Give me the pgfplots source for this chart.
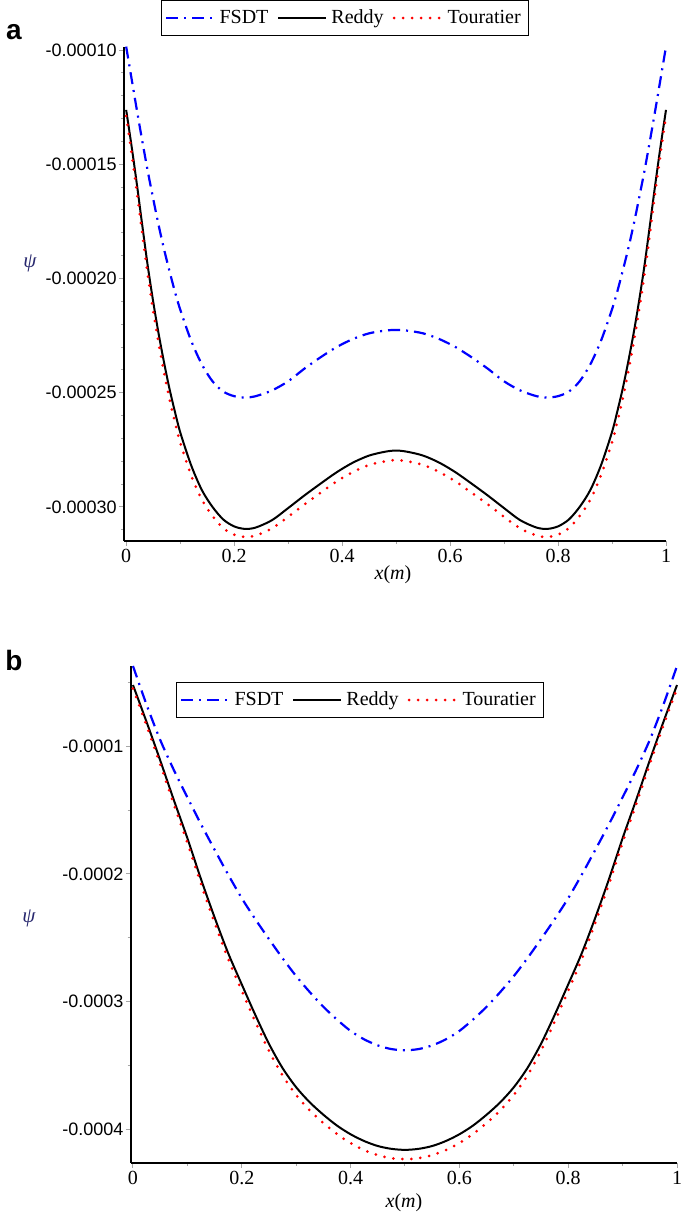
\documentclass[border=0pt]{standalone}
\usepackage{fontspec}
\setmainfont{Liberation Serif}
\newfontfamily\sansf{Liberation Sans}
\usepackage{pgfplots}
\pgfplotsset{compat=1.18}
\usepackage{pgfplotstable}

\definecolor{psicol}{RGB}{40,40,110}

\pgfplotstableread{
x fsdt reddy tour
0     -0.0000985 -0.0001262 -0.0001289
0.01  -0.0001125 -0.0001420 -0.0001450
0.02  -0.0001265 -0.0001590 -0.0001623
0.03  -0.0001400 -0.0001770 -0.0001806
0.04  -0.0001530 -0.0001945 -0.0001984
0.05  -0.0001650 -0.0002100 -0.0002140
0.06  -0.0001765 -0.0002240 -0.0002282
0.07  -0.0001870 -0.0002365 -0.0002408
0.08  -0.0001965 -0.0002480 -0.0002524
0.09  -0.0002055 -0.0002580 -0.0002625
0.10  -0.0002135 -0.0002672 -0.0002717
0.12  -0.0002270 -0.0002815 -0.0002859
0.14  -0.0002375 -0.0002925 -0.0002967
0.16  -0.0002450 -0.0003000 -0.0003040
0.18  -0.0002495 -0.0003055 -0.0003093
0.20  -0.0002515 -0.0003085 -0.0003121
0.22  -0.0002521 -0.0003096 -0.0003131
0.24  -0.0002515 -0.0003090 -0.0003125
0.27  -0.0002490 -0.0003058 -0.0003094
0.30  -0.0002450 -0.0003005 -0.0003043
0.33  -0.0002395 -0.0002950 -0.0002989
0.36  -0.0002345 -0.0002898 -0.0002938
0.39  -0.0002300 -0.0002848 -0.0002888
0.42  -0.0002265 -0.0002806 -0.0002847
0.45  -0.0002240 -0.0002775 -0.0002816
0.48  -0.0002228 -0.0002758 -0.0002800
0.50  -0.0002225 -0.0002753 -0.0002795
0.52  -0.0002228 -0.0002758 -0.0002800
0.55  -0.0002240 -0.0002775 -0.0002816
0.58  -0.0002265 -0.0002806 -0.0002847
0.61  -0.0002300 -0.0002848 -0.0002888
0.64  -0.0002345 -0.0002898 -0.0002938
0.67  -0.0002395 -0.0002950 -0.0002989
0.70  -0.0002450 -0.0003005 -0.0003043
0.73  -0.0002490 -0.0003058 -0.0003094
0.76  -0.0002515 -0.0003090 -0.0003125
0.78  -0.0002521 -0.0003096 -0.0003131
0.80  -0.0002515 -0.0003085 -0.0003121
0.82  -0.0002495 -0.0003055 -0.0003093
0.84  -0.0002450 -0.0003000 -0.0003040
0.86  -0.0002375 -0.0002925 -0.0002967
0.88  -0.0002270 -0.0002815 -0.0002859
0.90  -0.0002135 -0.0002672 -0.0002717
0.91  -0.0002055 -0.0002580 -0.0002625
0.92  -0.0001965 -0.0002480 -0.0002524
0.93  -0.0001870 -0.0002365 -0.0002408
0.94  -0.0001765 -0.0002240 -0.0002282
0.95  -0.0001650 -0.0002100 -0.0002140
0.96  -0.0001530 -0.0001945 -0.0001984
0.97  -0.0001400 -0.0001770 -0.0001806
0.98  -0.0001265 -0.0001590 -0.0001623
0.99  -0.0001125 -0.0001420 -0.0001450
1.00  -0.0000985 -0.0001262 -0.0001289
}\dataa

\pgfplotstableread{
x fsdt reddy tour
0     -0.0000372 -0.0000521 -0.0000548
0.025 -0.0000675 -0.0000810 -0.0000838
0.05  -0.0000950 -0.0001110 -0.0001140
0.075 -0.0001185 -0.0001420 -0.0001452
0.10  -0.0001400 -0.0001720 -0.0001755
0.125 -0.0001610 -0.0002040 -0.0002077
0.15  -0.0001810 -0.0002340 -0.0002380
0.175 -0.0002005 -0.0002620 -0.0002665
0.20  -0.0002190 -0.0002865 -0.0002915
0.225 -0.0002355 -0.0003105 -0.0003157
0.25  -0.0002510 -0.0003330 -0.0003385
0.275 -0.0002660 -0.0003520 -0.0003578
0.30  -0.0002800 -0.0003670 -0.0003730
0.325 -0.0002925 -0.0003788 -0.0003851
0.35  -0.0003040 -0.0003885 -0.0003950
0.375 -0.0003140 -0.0003970 -0.0004036
0.40  -0.0003229 -0.0004038 -0.0004107
0.425 -0.0003295 -0.0004091 -0.0004162
0.45  -0.0003342 -0.0004130 -0.0004201
0.475 -0.0003371 -0.0004152 -0.0004225
0.50  -0.0003380 -0.0004160 -0.0004233
0.525 -0.0003371 -0.0004152 -0.0004225
0.55  -0.0003342 -0.0004130 -0.0004201
0.575 -0.0003295 -0.0004091 -0.0004162
0.60  -0.0003229 -0.0004038 -0.0004107
0.625 -0.0003140 -0.0003970 -0.0004036
0.65  -0.0003040 -0.0003885 -0.0003950
0.675 -0.0002925 -0.0003788 -0.0003851
0.70  -0.0002800 -0.0003670 -0.0003730
0.725 -0.0002660 -0.0003520 -0.0003578
0.75  -0.0002510 -0.0003330 -0.0003385
0.775 -0.0002355 -0.0003105 -0.0003157
0.80  -0.0002190 -0.0002865 -0.0002915
0.825 -0.0002005 -0.0002620 -0.0002665
0.85  -0.0001810 -0.0002340 -0.0002380
0.875 -0.0001610 -0.0002040 -0.0002077
0.90  -0.0001400 -0.0001720 -0.0001755
0.925 -0.0001185 -0.0001420 -0.0001452
0.95  -0.0000950 -0.0001110 -0.0001140
0.975 -0.0000675 -0.0000810 -0.0000838
1.00  -0.0000372 -0.0000521 -0.0000548
}\datab

\pgfplotsset{
  mystyle/.style={
    scale only axis,
    axis lines=left,
    axis line style={-, line width=1pt, black},
    tick align=outside,
    tick style={gray!70, line width=0.5pt},
    major tick length=2.5pt,
    minor tick length=1.6pt,
    enlargelimits=false,
    clip=false,
    scaled y ticks=false,
    scaled x ticks=false,
    xmin=-0.004, xmax=1,
    xtick={0,0.2,0.4,0.6,0.8,1},
    xticklabels={0,0.2,0.4,0.6,0.8,1},
    minor xtick={0.1,0.3,0.5,0.7,0.9},
    xticklabel style={font=\fontsize{10}{11}\selectfont, inner sep=1.5pt},
    yticklabel style={font=\sansf\fontsize{9}{10}\selectfont, inner sep=1pt},
    legend columns=3,
    legend style={draw=black, line width=0.7pt, fill=white,
      font=\fontsize{10}{11.5}\selectfont, inner xsep=2pt, inner ysep=2.6pt,
      /tikz/every even column/.append style={column sep=2.5pt}},
    legend image code/.code={\draw[##1] (0pt,0pt) -- (24pt,0pt);},
  },
  fsdtst/.style={blue, line width=1.1pt, dash pattern=on 6pt off 3pt on 1pt off 3pt},
  reddyst/.style={black, line width=1pt},
  tourst/.style={red, line width=1.5pt, line cap=round, dash pattern=on 0pt off 4.5pt},
}

\begin{document}
\begin{tikzpicture}
\path[use as bounding box] (0,0) rectangle (342.5pt,-608.5pt);

\begin{axis}[mystyle,
  at={(62pt,-270.5pt)}, anchor=south west,
  width=271pt, height=247.2pt,
  ymin=-0.0003149, ymax=-0.0000985,
  ytick={-0.0003,-0.00025,-0.0002,-0.00015,-0.0001},
  yticklabels={{-0.00030},{-0.00025},{-0.00020},{-0.00015},{-0.00010}},
  minor ytick={-0.00031,-0.00029,-0.00028,-0.00027,-0.00026,-0.00024,-0.00023,-0.00022,-0.00021,-0.00019,-0.00018,-0.00017,-0.00016,-0.00014,-0.00013,-0.00012,-0.00011},
  legend style={at={(0.4078,1.0578)}, anchor=center},
]
\addplot[fsdtst, smooth] table[x=x, y=fsdt] {\dataa};
\addlegendentry{FSDT}
\addplot[reddyst, smooth] table[x=x, y=reddy] {\dataa};
\addlegendentry{Reddy}
\addplot[tourst, smooth] table[x=x, y=tour] {\dataa};
\addlegendentry{Touratier}
\end{axis}

\begin{axis}[mystyle,
  at={(65.4pt,-581.5pt)}, anchor=south west,
  width=273.1pt, height=248.5pt,
  ymin=-0.0004263, ymax=-0.0000372,
  ytick={-0.0004,-0.0003,-0.0002,-0.0001},
  yticklabels={{-0.0004},{-0.0003},{-0.0002},{-0.0001}},
  minor ytick={-0.00035,-0.00025,-0.00015,-0.00005},
  legend style={at={(0.4196,0.9316)}, anchor=center},
]
\addplot[fsdtst, smooth] table[x=x, y=fsdt] {\datab};
\addlegendentry{FSDT}
\addplot[reddyst, smooth] table[x=x, y=reddy] {\datab};
\addlegendentry{Reddy}
\addplot[tourst, smooth] table[x=x, y=tour] {\datab};
\addlegendentry{Touratier}
\end{axis}

\node[font=\sansf\bfseries\fontsize{14}{14}\selectfont] at (7pt,-16pt) {a};
\node[font=\sansf\bfseries\fontsize{14}{14}\selectfont] at (7pt,-330pt) {b};
\node[font=\fontsize{10.5}{12}\selectfont, text=psicol] at (15pt,-131.5pt) {\textit{ψ}};
\node[font=\fontsize{10.5}{12}\selectfont, text=psicol] at (14.5pt,-459pt) {\textit{ψ}};
\node[font=\fontsize{10}{12}\selectfont] at (196.5pt,-287.5pt) {\textit{x}(\textit{m})};
\node[font=\fontsize{10}{12}\selectfont] at (202pt,-601.5pt) {\textit{x}(\textit{m})};
\end{tikzpicture}
\end{document}
